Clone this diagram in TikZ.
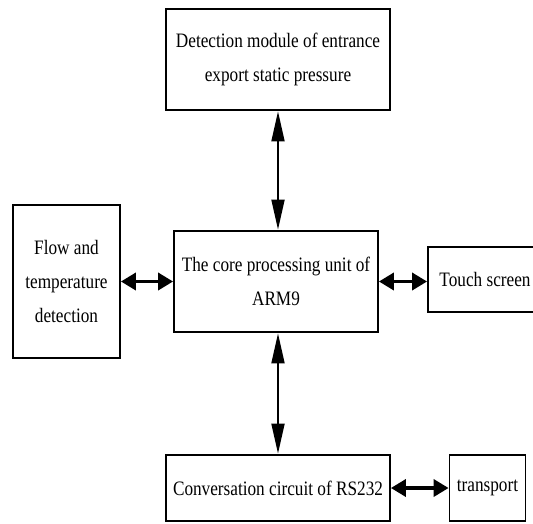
\documentclass[tikz,border=0pt]{standalone}
\usepackage{fontspec}
\setmainfont{Liberation Serif}[FakeStretch=0.84]
\usetikzlibrary{arrows.meta,calc}
\begin{document}
\begin{tikzpicture}[x=1pt,y=-1pt, line join=miter,
    font=\fontsize{20.5}{34}\selectfont,
    box/.style={draw, line width=1.8pt, align=center, inner sep=0pt},
    vline/.style={line width=1.8pt, {Triangle[length=30pt,width=13pt]}-{Triangle[length=30pt,width=13pt]}, shorten <=0.5pt, shorten >=0.5pt},
    hline/.style={line width=3.5pt, {Triangle[length=15pt,width=17pt]}-{Triangle[length=15pt,width=17pt]}}]
    \useasboundingbox (0,0) rectangle (533,523);
    \clip (0,0) rectangle (533,523);
    \node[box, minimum width=224pt, minimum height=101pt] (det) at (278,59.5)
        {Detection module of entrance\\export static pressure};
    \node[box, minimum width=204pt, minimum height=101pt] (core) at (276,281.5)
        {The core processing unit of\\ARM9};
    \node[box, minimum width=107pt, minimum height=153pt] (flow) at (66.5,281.5)
        {Flow and\\temperature\\detection};
    %\node touch screen runs past the right margin
    \node[box, minimum width=114pt, minimum height=65pt] (touch) at (485,279.5)
        {Touch screen};
    \node[box, minimum width=224pt, minimum height=66pt] (rs) at (278,488)
        {Conversation circuit of RS232};
    \node[box, minimum width=76pt, minimum height=66pt] (trans) at (487.5,488)
        {transport};
    \draw[vline] (det.south) -- (det.south |- core.north);
    \draw[vline] (det.south |- core.south) -- (det.south |- rs.north);
    \draw[hline] (flow.east) -- (core.west);
    \draw[hline] (core.east) -- (core.east -| touch.west);
    \draw[hline] (rs.east) -- (trans.west);
\end{tikzpicture}
\end{document}
